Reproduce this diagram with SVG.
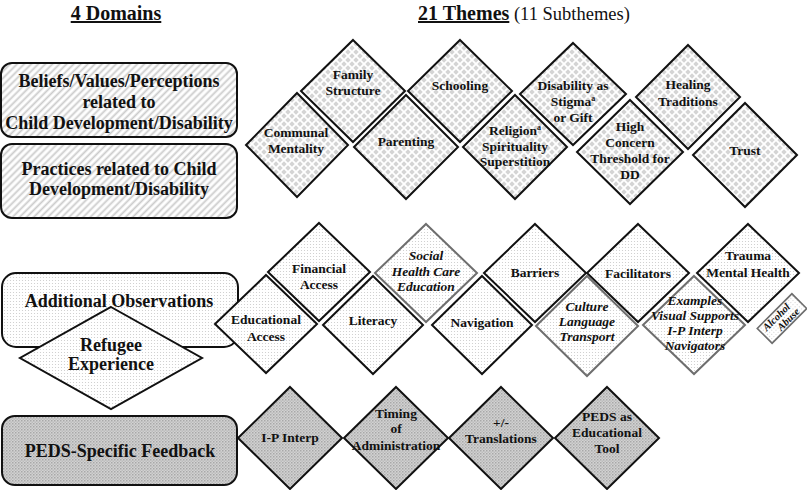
<svg xmlns="http://www.w3.org/2000/svg" width="807" height="490" viewBox="0 0 807 490">
<defs>
<pattern id="hatch" width="5" height="5" patternUnits="userSpaceOnUse" patternTransform="rotate(45)">
<rect width="5" height="5" fill="#fff"/><rect x="1.5" y="0" width="1.8" height="5" fill="#cbcbcb"/>
</pattern>
<pattern id="check" width="8" height="8" patternUnits="userSpaceOnUse">
<rect width="8" height="8" fill="#fff"/>
<polygon points="4,1.3 6.7,4 4,6.7 1.3,4" fill="#d4d4d4"/>
<polygon points="0,-2.7 2.7,0 0,2.7 -2.7,0" fill="#d4d4d4"/>
<polygon points="8,-2.7 10.7,0 8,2.7 5.3,0" fill="#d4d4d4"/>
<polygon points="0,5.3 2.7,8 0,10.7 -2.7,8" fill="#d4d4d4"/>
<polygon points="8,5.3 10.7,8 8,10.7 5.3,8" fill="#d4d4d4"/>
</pattern>
<pattern id="dots" width="3" height="3" patternUnits="userSpaceOnUse">
<rect width="3" height="3" fill="#fff"/><circle cx="1.5" cy="1.5" r="0.55" fill="#c9c9c9"/>
</pattern>
<pattern id="peds" width="3" height="3" patternUnits="userSpaceOnUse">
<rect width="3" height="3" fill="#d2d2d2"/><rect x="0" y="0" width="1.5" height="1.5" fill="#a8a8a8"/><rect x="1.5" y="1.5" width="1.5" height="1.5" fill="#bcbcbc"/>
</pattern>
</defs>
<style>
text{font-family:"Liberation Serif","Times New Roman",serif;font-weight:bold;fill:#111;text-anchor:middle}
.dom{font-size:18px}
.th{font-size:13.5px}
.it{font-style:italic}
.box{stroke:#111;stroke-width:2}
.dk{stroke:#111;stroke-width:2}
.gy{stroke:#6e6e6e;stroke-width:2}
.c{fill:url(#check)}
.d{fill:url(#dots)}
.p{fill:url(#peds)}
</style>

<g id="headers">
<text x="116" y="20" style="font-size:20px;text-decoration:underline">4 Domains</text>
<text x="418" y="20" style="text-anchor:start;font-size:20px"><tspan style="text-decoration:underline">21 Themes</tspan><tspan style="font-weight:normal;font-size:18.5px"> (11 Subthemes)</tspan></text>
</g>

<g id="domain-beliefs">
<rect class="box" x="1" y="63" width="236" height="74" rx="11" fill="url(#hatch)"/>
<text class="dom" x="119" y="87">Beliefs/Values/Perceptions</text>
<text class="dom" x="119" y="108">related to</text>
<text class="dom" x="119" y="129">Child Development/Disability</text>
</g>
<g id="domain-practices">
<rect class="box" x="1" y="144" width="236" height="74" rx="11" fill="url(#hatch)"/>
<text class="dom" x="119" y="175">Practices related to Child</text>
<text class="dom" x="119" y="195">Development/Disability</text>
</g>
<g id="domain-additional">
<rect class="box" x="2" y="273" width="236" height="74" rx="14" fill="url(#dots)"/>
<text class="dom" x="119" y="307">Additional Observations</text>
</g>
<g id="domain-refugee">
<polygon class="box" points="111,307 202,358 111,409 20,358" fill="url(#dots)"/>
<text class="dom" x="111" y="351">Refugee</text>
<text class="dom" x="111" y="370">Experience</text>
</g>
<g id="domain-peds">
<rect class="box" x="2" y="416" width="235" height="69" rx="13" fill="url(#peds)"/>
<text class="dom" x="120" y="457">PEDS-Specific Feedback</text>
</g>

<!-- Beliefs/Practices themes -->
<g id="t-communal">
<polygon class="dk c" points="297,93 348,145 297,197 246,145"/>
<text class="th" x="296" y="137">Communal</text>
<text class="th" x="296" y="153">Mentality</text>
</g>
<g id="t-family">
<polygon class="dk c" points="353,40 405,91 353,142 301,91"/>
<text class="th" x="353" y="79">Family</text>
<text class="th" x="353" y="95">Structure</text>
</g>
<g id="t-schooling">
<polygon class="dk c" points="460,40 512,91 460,142 408,91"/>
<text class="th" x="460" y="90">Schooling</text>
</g>
<g id="t-parenting">
<polygon class="dk c" points="406,95 458,147 406,199 354,147"/>
<text class="th" x="406" y="146">Parenting</text>
</g>
<g id="t-religion">
<polygon class="dk c" points="515,95 567,147 515,199 463,147"/>
<text class="th" x="515" y="135">Religion<tspan font-size="8" dy="-5">a</tspan></text>
<text class="th" x="515" y="151">Spirituality</text>
<text class="th" x="515" y="166">Superstition</text>
</g>
<g id="t-stigma">
<polygon class="dk c" points="573,43 626,94 573,145 520,94"/>
<text class="th" x="573" y="90">Disability as</text>
<text class="th" x="573" y="106">Stigma<tspan font-size="8" dy="-5">a</tspan></text>
<text class="th" x="573" y="122">or Gift</text>
</g>
<g id="t-threshold">
<polygon class="dk c" points="630,100 683,152 630,204 577,152"/>
<text class="th" x="630" y="131">High</text>
<text class="th" x="630" y="147">Concern</text>
<text class="th" x="630" y="163">Threshold for</text>
<text class="th" x="630" y="179">DD</text>
</g>
<g id="t-healing">
<polygon class="dk c" points="688,45 740,97 688,149 636,97"/>
<text class="th" x="688" y="89">Healing</text>
<text class="th" x="688" y="106">Traditions</text>
</g>
<g id="t-trust">
<polygon class="dk c" points="745,103 797,155 745,207 693,155"/>
<text class="th" x="745" y="155">Trust</text>
</g>

<!-- Additional Observations themes -->
<g id="t-financial">
<polygon class="dk d" points="319,223 370,272 319,321 268,272"/>
<text class="th" x="319" y="273">Financial</text>
<text class="th" x="319" y="289">Access</text>
</g>
<g id="t-social">
<polygon class="gy d" points="426,224 477,273 426,322 375,273"/>
<text class="th it" x="426" y="260">Social</text>
<text class="th it" x="426" y="276">Health Care</text>
<text class="th it" x="426" y="291">Education</text>
</g>
<g id="t-barriers">
<polygon class="dk d" points="535,224 586,273 535,322 484,273"/>
<text class="th" x="535" y="277">Barriers</text>
</g>
<g id="t-facilitators">
<polygon class="dk d" points="638,224 689,273 638,322 587,273"/>
<text class="th" x="638" y="278">Facilitators</text>
</g>
<g id="t-trauma">
<polygon class="dk d" points="748,224 799,273 748,322 697,273"/>
<text class="th" x="748" y="260">Trauma</text>
<text class="th" x="748" y="277">Mental Health</text>
</g>
<g id="t-educational">
<polygon class="dk d" points="266,275 317,324 266,373 215,324"/>
<text class="th" x="266" y="324">Educational</text>
<text class="th" x="266" y="341">Access</text>
</g>
<g id="t-literacy">
<polygon class="dk d" points="373,276 423,325 373,374 323,325"/>
<text class="th" x="373" y="325">Literacy</text>
</g>
<g id="t-navigation">
<polygon class="dk d" points="482,276 532,325 482,374 432,325"/>
<text class="th" x="482" y="327">Navigation</text>
</g>
<g id="t-culture">
<polygon class="gy d" points="587,276 638,326 587,376 536,326"/>
<text class="th it" x="587" y="311">Culture</text>
<text class="th it" x="587" y="326">Language</text>
<text class="th it" x="587" y="341">Transport</text>
</g>
<g id="t-examples">
<polygon class="gy d" points="694,276 745,325 694,374 643,325"/>
<text class="th it" x="695" y="305">Examples</text>
<text class="th it" x="695" y="320">Visual Supports</text>
<text class="th it" x="695" y="335">I-P Interp</text>
<text class="th it" x="695" y="350">Navigators</text>
</g>
<g id="t-alcohol" transform="rotate(-45 782 318.5)">
<rect class="gy" x="757.5" y="308" width="49" height="21" fill="url(#dots)" style="stroke-width:1.6"/>
<text class="it" x="779" y="317" style="font-size:10.5px">Alcohol</text>
<text class="it" x="786" y="327" style="font-size:10.5px">Abuse</text>
</g>

<!-- PEDS themes -->
<g id="t-ipinterp">
<polygon class="dk p" points="290,387 342,438 290,489 238,438"/>
<text class="th" x="290" y="442">I-P Interp</text>
</g>
<g id="t-timing">
<polygon class="dk p" points="396,387 448,438 396,489 344,438"/>
<text class="th" x="396" y="418">Timing</text>
<text class="th" x="396" y="433">of</text>
<text class="th" x="396" y="450">Administration</text>
</g>
<g id="t-translations">
<polygon class="dk p" points="501,387 553,438 501,489 449,438"/>
<text class="th" x="501" y="427">+/-</text>
<text class="th" x="501" y="443">Translations</text>
</g>
<g id="t-pedstool">
<polygon class="dk p" points="607,387 659,438 607,489 555,438"/>
<text class="th" x="607" y="421">PEDS as</text>
<text class="th" x="607" y="437">Educational</text>
<text class="th" x="607" y="453">Tool</text>
</g>

<g id="connectors"></g>
</svg>
